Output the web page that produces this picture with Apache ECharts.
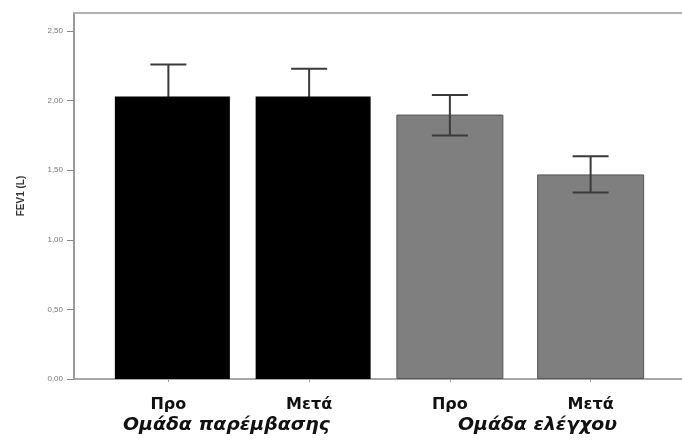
<!DOCTYPE html>
<html>
<head>
<meta charset="utf-8">
<script src="https://cdn.jsdelivr.net/npm/echarts@6/dist/echarts.min.js"></script>
<style>html,body{margin:0;padding:0;background:#fff}#c{width:682px;height:442px}</style>
</head>
<body>
<div id="c"></div>
<script>
const categories = ['Προ', 'Μετά', 'Προ', 'Μετά'];
const groupLabels = ['Ομάδα παρέμβασης', 'Ομάδα ελέγχου'];
const interventionMeans = [2.03, 2.03, '-', '-'];
const controlMeans = ['-', '-', 1.90, 1.47];
const errLow = [1.80, 1.83, 1.75, 1.34];
const errHigh = [2.26, 2.23, 2.04, 1.60];
const yTicks = [0, 0.5, 1.0, 1.5, 2.0, 2.5];
const yName = 'FEV1 (L)';

const Y_MAX = 2.63;
const chart = echarts.init(document.getElementById('c'), null, {renderer: 'canvas'});

const errInterv = categories.map((c, i) => interventionMeans[i] === '-' ? null : [i, errLow[i], errHigh[i]]).filter(Boolean);
const errControl = categories.map((c, i) => controlMeans[i] === '-' ? null : [i, errLow[i], errHigh[i]]).filter(Boolean);

function errRender(params, api) {
  const x = api.value(0);
  const lo = api.coord([x, api.value(1)]);
  const hi = api.coord([x, api.value(2)]);
  const hw = 18;
  const style = {stroke: '#3a3a3a', lineWidth: 2};
  return {type: 'group', children: [
    {type: 'line', shape: {x1: hi[0], y1: hi[1], x2: lo[0], y2: lo[1]}, style},
    {type: 'line', shape: {x1: hi[0] - hw, y1: hi[1], x2: hi[0] + hw, y2: hi[1]}, style},
    {type: 'line', shape: {x1: lo[0] - hw, y1: lo[1], x2: lo[0] + hw, y2: lo[1]}, style}
  ]};
}

const labelFont = '"DejaVu Sans", "Liberation Sans", Arial';

chart.setOption({
  animation: false,
  backgroundColor: '#fff',
  grid: [
    {left: 74, right: 0, top: 13, bottom: 63},
    {left: 98, right: 21, top: 13, bottom: 63}
  ],
  xAxis: [
    {gridIndex: 0, type: 'value', min: 0, max: 1, position: 'bottom',
     axisLine: {show: true, lineStyle: {color: '#a8a8a8', width: 2}},
     axisTick: {show: false}, axisLabel: {show: false}, splitLine: {show: false}},
    {gridIndex: 0, type: 'value', min: 0, max: 1, position: 'top',
     axisLine: {show: true, lineStyle: {color: '#b0b0b0', width: 2}},
     axisTick: {show: false}, axisLabel: {show: false}, splitLine: {show: false}},
    {gridIndex: 1, type: 'category', data: categories, position: 'bottom',
     axisLine: {show: false},
     axisTick: {show: true, alignWithLabel: true, length: 3, lineStyle: {color: '#999'}},
     axisLabel: {color: '#111', fontFamily: labelFont, fontWeight: 'bold', fontSize: 16, margin: 18}}
  ],
  yAxis: [
    {gridIndex: 0, type: 'value', min: 0, max: Y_MAX,
     name: yName, nameLocation: 'middle', nameGap: 48, nameRotate: 90,
     nameTextStyle: {color: '#333', fontWeight: 'bold', fontSize: 10, fontFamily: 'Liberation Sans, Arial'},
     axisLine: {show: true, lineStyle: {color: '#999', width: 2}},
     axisTick: {show: true, length: 7, customValues: yTicks, lineStyle: {color: '#888', width: 1}},
     axisLabel: {color: '#777', fontSize: 8, fontFamily: 'Liberation Sans, Arial', margin: 11,
       customValues: yTicks,
       formatter: v => v.toFixed(2).replace('.', ',')},
     splitLine: {show: false}},
    {gridIndex: 1, type: 'value', min: 0, max: Y_MAX, show: false, splitLine: {show: false}}
  ],
  series: [
    {type: 'custom', xAxisIndex: 2, yAxisIndex: 1, data: errInterv, z: 1, renderItem: errRender},
    {type: 'bar', xAxisIndex: 2, yAxisIndex: 1, data: interventionMeans, barWidth: 115, barGap: '-100%',
     z: 2, itemStyle: {color: '#000'}},
    {type: 'bar', xAxisIndex: 2, yAxisIndex: 1, data: controlMeans, barWidth: 107, barGap: '-100%',
     z: 2, itemStyle: {color: '#7f7f7f', borderColor: '#555', borderWidth: 1}},
    {type: 'custom', xAxisIndex: 2, yAxisIndex: 1, data: errControl, z: 10, renderItem: errRender}
  ],
  graphic: [
    {type: 'text', x: 123, y: 417, scaleX: 1.11, style: {text: groupLabels[0], fill: '#111',
      font: 'italic bold 17px "DejaVu Sans", Arial'}},
    {type: 'text', x: 458, y: 417, scaleX: 1.11, style: {text: groupLabels[1], fill: '#111',
      font: 'italic bold 17px "DejaVu Sans", Arial'}}
  ]
});
</script>
</body>
</html>
